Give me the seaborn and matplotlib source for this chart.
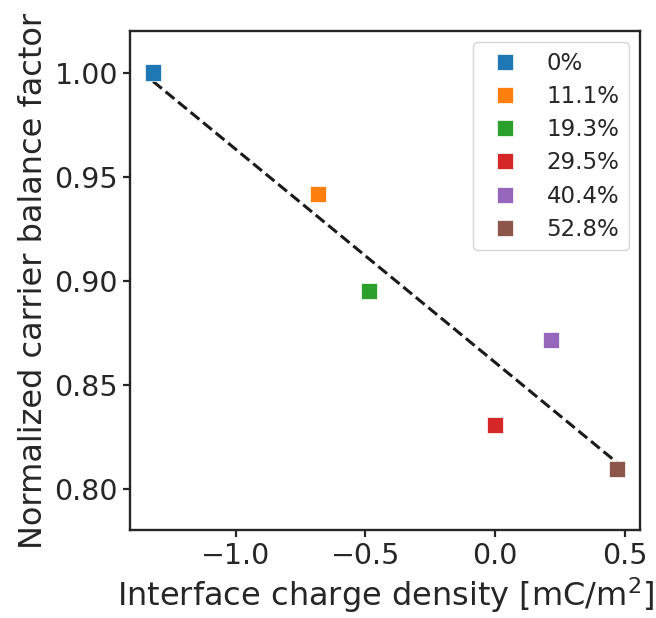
import numpy as np
import pandas as pd
import seaborn as sns
import matplotlib.pyplot as plt

# values
charge = [-1.318, -0.682, -0.485, 0.0, 0.214, 0.469]
balance = [1.000, 0.9415, 0.895, 0.8307, 0.8715, 0.8096]
fraction = ["0%", "11.1%", "19.3%", "29.5%", "40.4%", "52.8%"]

df = pd.DataFrame({"charge": charge, "balance": balance, "fraction": fraction})

sns.set_theme(style="ticks")
plt.rcParams.update({
    "axes.linewidth": 1.7,
    "xtick.major.width": 1.6,
    "ytick.major.width": 1.6,
    "xtick.major.size": 5,
    "ytick.major.size": 5,
    "xtick.labelsize": 20.5,
    "ytick.labelsize": 20.5,
    "axes.labelsize": 23,
    "legend.fontsize": 16.5,
})

fig = plt.figure(figsize=(6.56, 6.18), dpi=100)
ax = fig.add_axes([0.198, 0.142, 0.778, 0.808])

# linear fit through all points
sns.regplot(data=df, x="charge", y="balance", scatter=False, ci=None, ax=ax,
            line_kws=dict(color="#1a1a1a", ls="--", lw=2.2))
sns.scatterplot(data=df, x="charge", y="balance", hue="fraction", palette="tab10",
                marker="s", s=135, edgecolor="white", linewidth=0.5, ax=ax, zorder=3)

ax.set_ylim(0.78, 1.02)
ax.set_yticks([0.80, 0.85, 0.90, 0.95, 1.00])
ax.set_xticks([-1.0, -0.5, 0.0, 0.5])
ax.set_xlabel("Interface charge density [mC/m$^2$]")
ax.set_ylabel("Normalized carrier balance factor")

leg = ax.legend(loc="upper right", labelspacing=0.45)
leg.get_frame().set_edgecolor("#cccccc")

plt.savefig("out.png", dpi=100)
